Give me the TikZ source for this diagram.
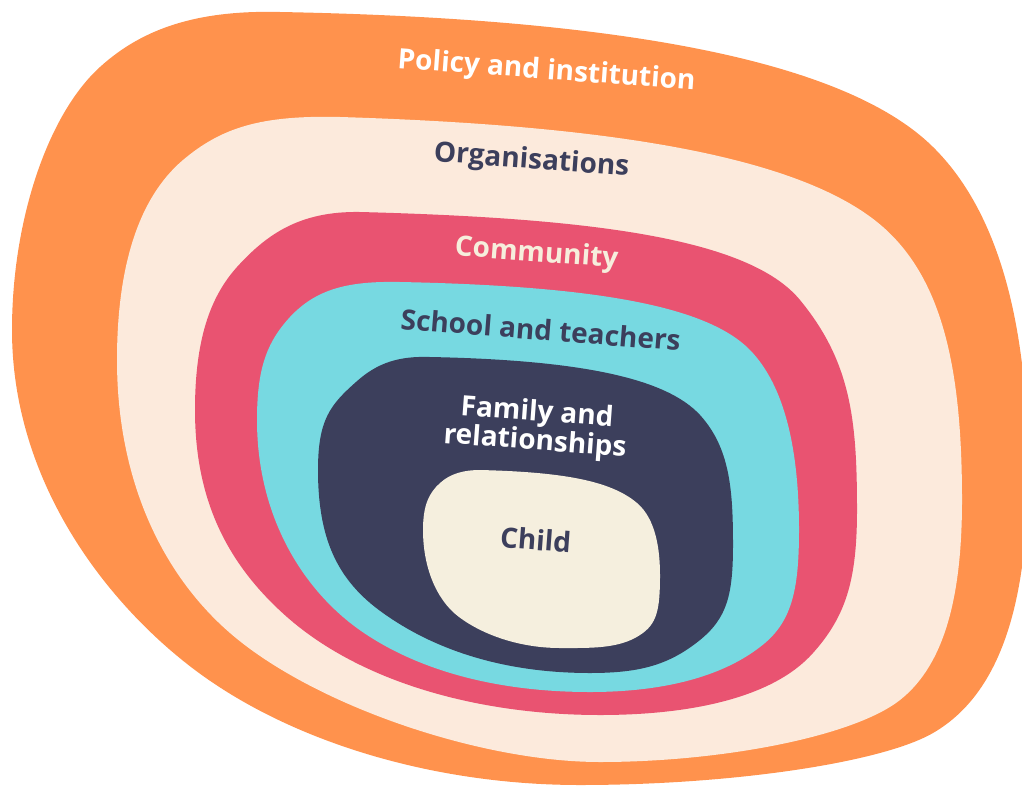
\documentclass[tikz,border=0pt]{standalone}
\usepackage{fontspec}
\setmainfont{Open Sans}
\definecolor{cOrange}{HTML}{FF924D}
\definecolor{cPeach}{HTML}{FCEADC}
\definecolor{cPink}{HTML}{E95371}
\definecolor{cCyan}{HTML}{77D9E1}
\definecolor{cNavy}{HTML}{3C3F5C}
\definecolor{cCream}{HTML}{F5EFDE}
\definecolor{cText}{HTML}{F6EEDC}
\tikzset{
  lbl/.style={anchor=base, inner sep=0pt, font=\fontsize{28}{27}\selectfont\bfseries, rotate=-4.2},
}
\begin{document}
\begin{tikzpicture}[x=1pt,y=-1pt]
\useasboundingbox (0,0) rectangle (1022,787);
\clip (0,0) rectangle (1022,787);
% Policy and institution
\fill[cOrange] (280,12) .. controls (600,18) and (841,56) .. (933,147)
  .. controls (997,210) and (1028,320) .. (1028,470)
  .. controls (1028,600) and (1002,693) .. (933,733)
  .. controls (881,763) and (730,785) .. (580,785)
  .. controls (430,785) and (286,740) .. (191,667)
  .. controls (104,600) and (12,480) .. (12,330)
  .. controls (12,220) and (48,114) .. (100,67)
  .. controls (144,27) and (200,10) .. (280,12) -- cycle;
% Organisations
\fill[cPeach] (340,117) .. controls (600,125) and (800,154) .. (883,227)
  .. controls (943,280) and (962,370) .. (962,500)
  .. controls (962,590) and (947,663) .. (900,700)
  .. controls (853,737) and (720,762) .. (600,762)
  .. controls (480,762) and (313,705) .. (230,633)
  .. controls (162,574) and (117,480) .. (117,360)
  .. controls (117,270) and (137,199) .. (183,160)
  .. controls (221,128) and (260,115) .. (340,117) -- cycle;
% Community
\fill[cPink] (360,212) .. controls (590,218) and (749,238) .. (800,300)
  .. controls (851,362) and (857,420) .. (857,510)
  .. controls (857,580) and (846,616) .. (813,653)
  .. controls (773,698) and (690,715) .. (600,715)
  .. controls (480,715) and (362,683) .. (287,617)
  .. controls (227,564) and (195,500) .. (195,410)
  .. controls (195,340) and (210,297) .. (237,267)
  .. controls (267,234) and (300,211) .. (360,212) -- cycle;
% School and teachers
\fill[cCyan] (400,282) .. controls (600,286) and (708,307) .. (750,350)
  .. controls (785,386) and (799,450) .. (799,530)
  .. controls (799,590) and (792,623) .. (760,647)
  .. controls (720,678) and (660,692) .. (590,692)
  .. controls (500,692) and (422,672) .. (364,633)
  .. controls (306,594) and (257,520) .. (257,420)
  .. controls (257,370) and (266,343) .. (290,317)
  .. controls (317,288) and (350,281) .. (400,282) -- cycle;
% Family and relationships
\fill[cNavy] (430,357) .. controls (580,360) and (666,378) .. (700,415)
  .. controls (730,448) and (733,490) .. (733,545)
  .. controls (733,595) and (727,618) .. (700,640)
  .. controls (669,665) and (640,673) .. (590,673)
  .. controls (500,673) and (432,648) .. (383,613)
  .. controls (338,581) and (318,540) .. (318,470)
  .. controls (318,420) and (330,405) .. (356,382)
  .. controls (378,362) and (400,356) .. (430,357) -- cycle;
% Child
\fill[cCream] (480,470) .. controls (560,472) and (610,480) .. (637,503)
  .. controls (656,519) and (660,550) .. (660,575)
  .. controls (660,610) and (657,624) .. (640,635)
  .. controls (619,649) and (590,648) .. (560,648)
  .. controls (520,648) and (483,635) .. (459,617)
  .. controls (435,599) and (423,565) .. (423,530)
  .. controls (423,505) and (429,493) .. (440,483)
  .. controls (451,473) and (465,470) .. (480,470) -- cycle;
% labels
\node[lbl, text=white] (policy) at (546,79) {Policy and institution};
\node[lbl, text=cNavy] (orgs) at (531,168.5) {Organisations};
\node[lbl, text=cText] (comm) at (536,261.5) {Community};
\node[lbl, text=cNavy, rotate=-0.3] (school) at (540,340) {School and teachers};
\node[lbl, text=white, anchor=center, align=center] (fam) at (536,428) {Family and\\relationships};
\node[lbl, text=cNavy] (child) at (535,550) {Child};
\end{tikzpicture}
\end{document}
